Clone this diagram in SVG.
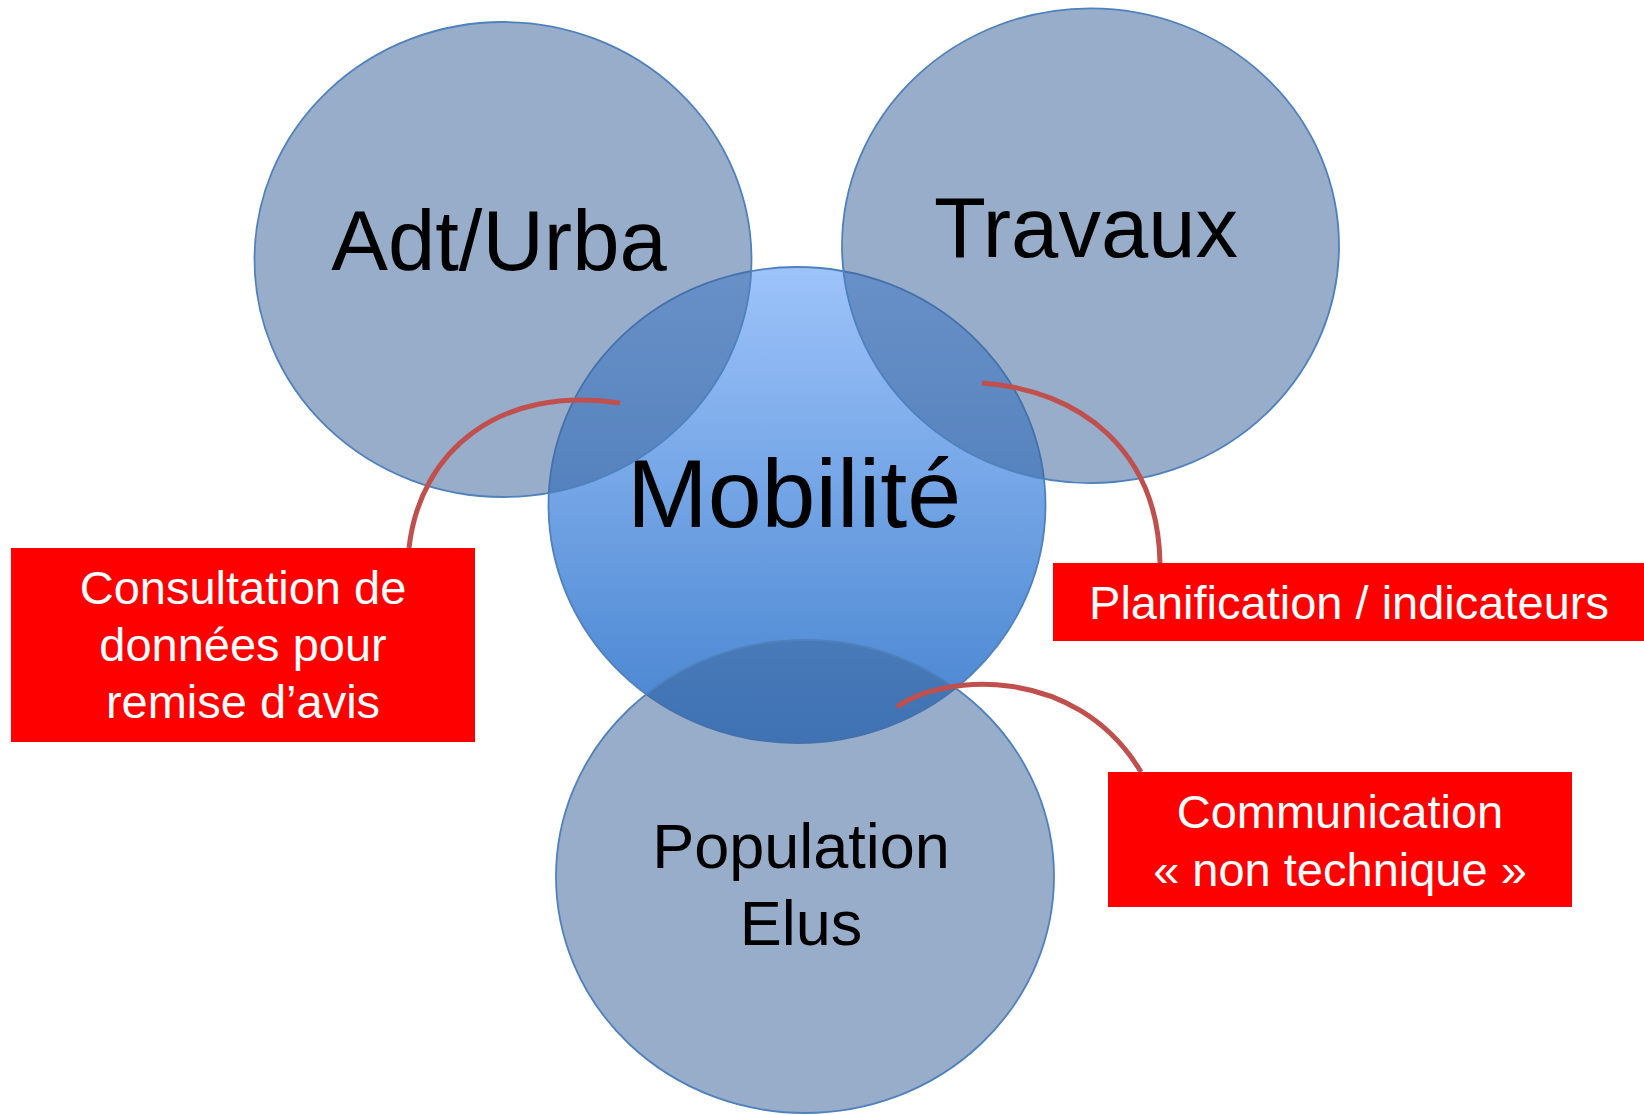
<svg xmlns="http://www.w3.org/2000/svg" width="1644" height="1115" viewBox="0 0 1644 1115">
<defs>
<linearGradient id="gMob" x1="0" y1="0" x2="0" y2="1">
<stop offset="0" stop-color="#9DC3FA"/>
<stop offset="1" stop-color="#4583CF"/>
</linearGradient>
<style>
.outer{fill:rgb(58,101,155);fill-opacity:0.53;stroke:#4F81BD;stroke-width:1.8}
.center{fill:url(#gMob);stroke:#4F81BD;stroke-width:1.8}
.ntext{font-family:"Liberation Sans",Arial,sans-serif;fill:#000;text-anchor:middle}
.box{fill:#FF0000}
.btext{font-family:"Liberation Sans",Arial,sans-serif;fill:#FFFFFF;font-size:47px;text-anchor:middle}
.conn{fill:none;stroke:#C0504D;stroke-width:5}
</style>
</defs>
<rect width="1644" height="1115" fill="#FFFFFF"/>
<g id="node-mobilite">
<ellipse class="center" cx="797" cy="505" rx="248.5" ry="238"/>
<text class="ntext" x="794" y="527" font-size="97">Mobilité</text>
</g>
<g id="node-adt-urba">
<ellipse class="outer" cx="503" cy="259.5" rx="248.5" ry="237.5"/>
<text class="ntext" x="499" y="270" font-size="85">Adt/Urba</text>
</g>
<g id="node-travaux">
<ellipse class="outer" cx="1090.5" cy="245.7" rx="248.5" ry="237.4"/>
<text class="ntext" x="1086" y="257" font-size="85">Travaux</text>
</g>
<g id="node-population">
<ellipse class="outer" cx="805" cy="876.5" rx="249" ry="236.5"/>
<text class="ntext" x="801" y="868" font-size="63">Population</text>
<text class="ntext" x="801" y="945" font-size="63">Elus</text>
</g>
<g id="connectors">
<path class="conn" d="M620,403 C500,385 420,450 409,548"/>
<path class="conn" d="M982,383 C1080,390 1158,450 1160,563"/>
<path class="conn" d="M897,707 C940,675 1075,662 1141,772"/>
</g>
<g id="label-consultation">
<rect class="box" x="11" y="548" width="464" height="194"/>
<text class="btext" x="243" y="604">Consultation de</text>
<text class="btext" x="243" y="661">données pour</text>
<text class="btext" x="243" y="718">remise d’avis</text>
</g>
<g id="label-planification">
<rect class="box" x="1053" y="563" width="591" height="78"/>
<text class="btext" x="1349" y="619">Planification / indicateurs</text>
</g>
<g id="label-communication">
<rect class="box" x="1108" y="772" width="464" height="135"/>
<text class="btext" x="1340" y="828">Communication</text>
<text class="btext" x="1340" y="886">« non technique »</text>
</g>
</svg>
